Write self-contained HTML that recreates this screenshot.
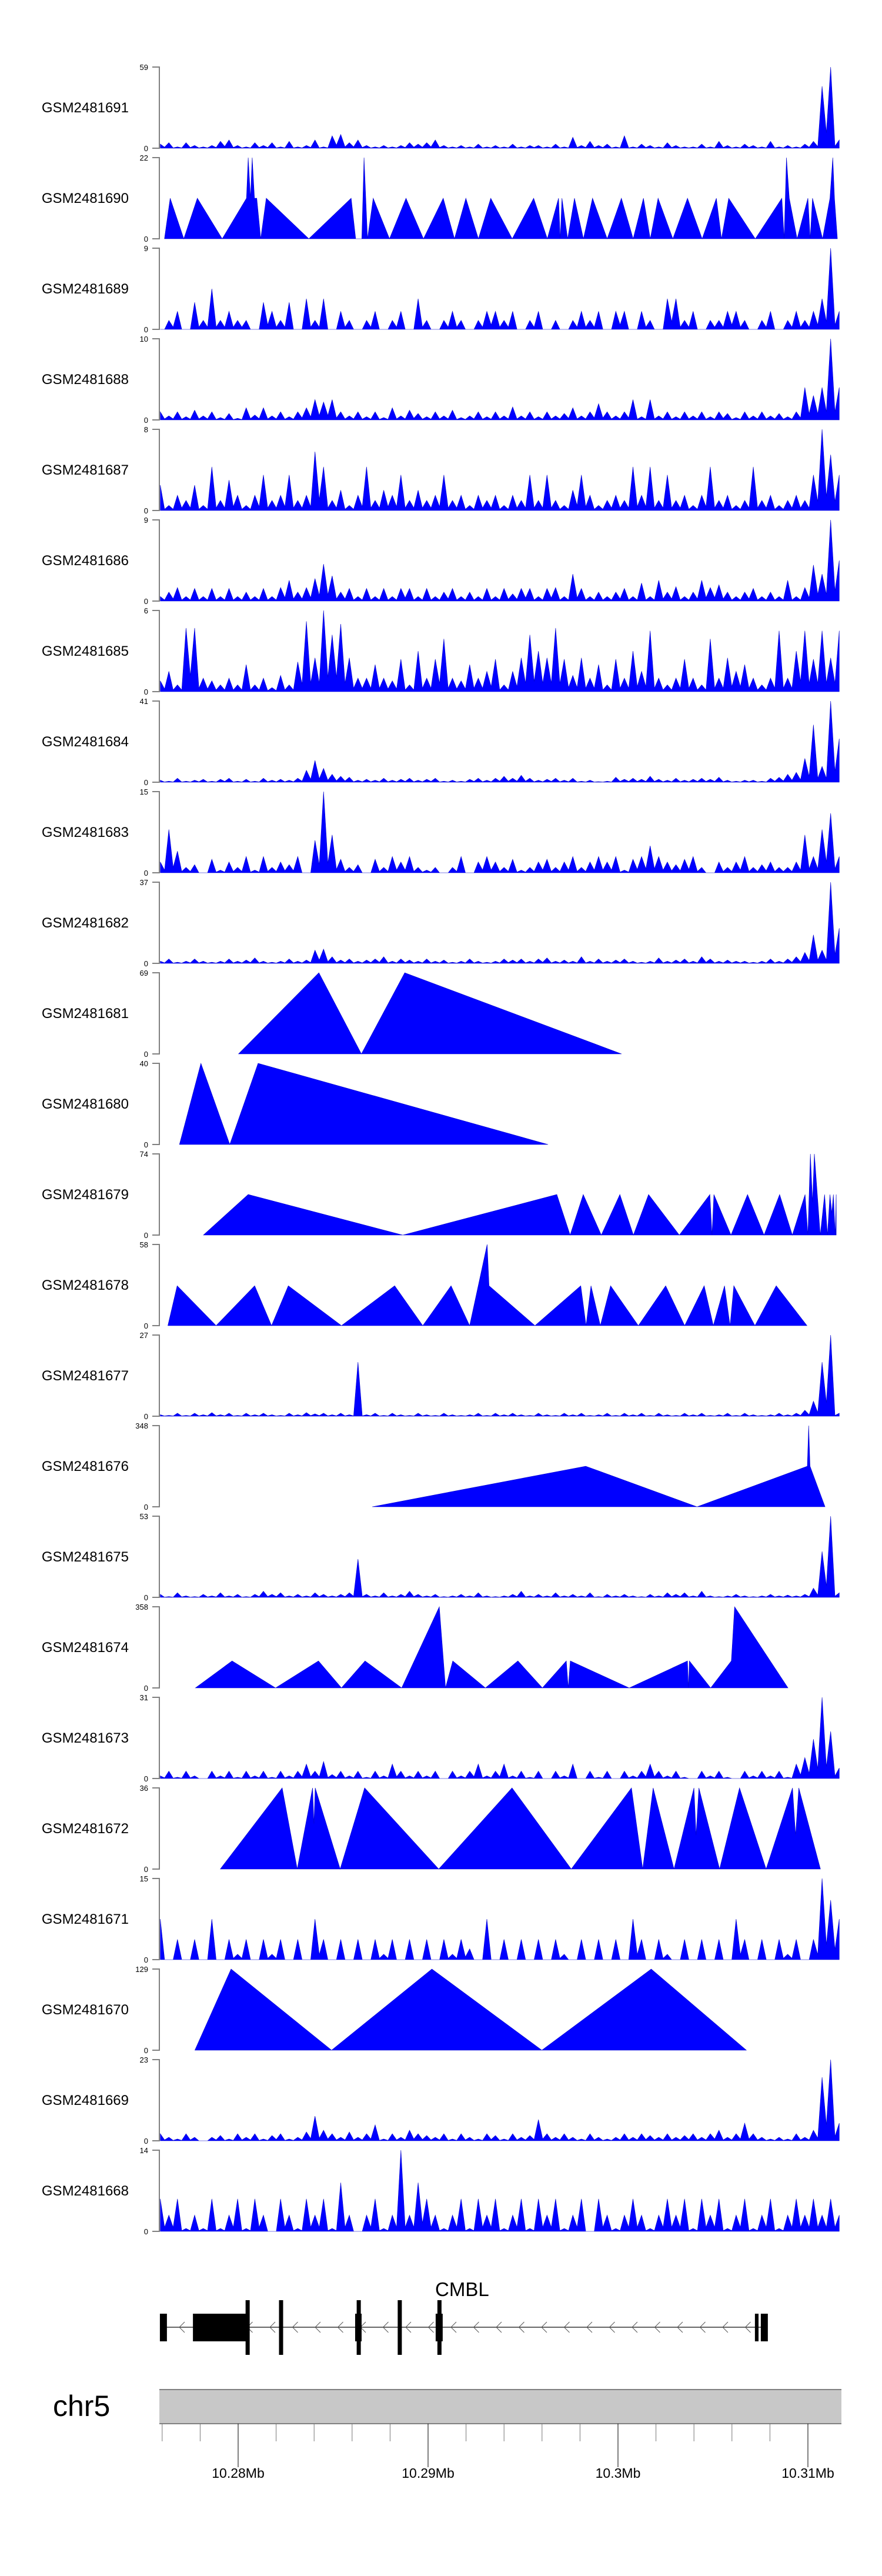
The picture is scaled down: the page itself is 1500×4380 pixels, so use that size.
<!DOCTYPE html>
<html><head><meta charset="utf-8"><title>Coverage tracks CMBL</title>
<style>
html,body{margin:0;padding:0;background:#fff;}
svg{display:block;font-family:"Liberation Sans",Arial,sans-serif;}
</style></head>
<body>
<svg id="chart" width="1500" height="4380" viewBox="0 0 1500 4380" xmlns="http://www.w3.org/2000/svg"></svg>
<script>
// ---- data ----
const sampleNames = ["GSM2481691","GSM2481690","GSM2481689","GSM2481688","GSM2481687","GSM2481686","GSM2481685","GSM2481684","GSM2481683","GSM2481682","GSM2481681","GSM2481680","GSM2481679","GSM2481678","GSM2481677","GSM2481676","GSM2481675","GSM2481674","GSM2481673","GSM2481672","GSM2481671","GSM2481670","GSM2481669","GSM2481668"];
const axisMax = [59,22,9,10,8,9,6,41,15,37,69,40,74,58,27,348,53,358,31,36,15,129,23,14];
// binned coverage (kb positions evenly spaced from binStartKb to binEndKb)
const binStartKb = 5.9;
const binEndKb = 41.65;
const cov1691 = [3,4,1,4,2,1,2,5,6,2,1,4,2,4,1,5,1,2,6,1,9,10,4,6,2,1,2,1,2,4,3,4,6,2,1,2,1,3,1,2,1,3,1,2,2,1,3,1,8,2,5,2,3,1,9,1,3,2,1,4,2,1,1,3,1,5,2,1,3,2,1,5,1,2,1,3,5,45,59,6];
const cov1689 = [0,1,2,0,3,1,4.5,1,2,1,1,0,3,2,1,3,0,3.4,1,3.4,0,2,1,0,1,2,0,1,2,0,3.4,1,0,1,2,1,0,1,2,2,1,2,0,1,2,0,1,0,1,2,1,2,0,2,2,0,2,1,0,3.4,3.4,1,2,0,1,1,2,2,1,0,1,2,0,1,2,1,2,3.4,9,2];
const cov1688 = [1,0.5,1,0.4,1.2,0.5,1,0.3,0.8,0.2,1.5,0.6,1.5,0.5,1,0.4,1,1.5,2.5,2.2,2.5,1,0.5,1,0.4,1,0.3,1.5,0.5,1.2,0.8,0.4,1,0.5,1.2,0.3,0.5,1,0.4,1,0.5,1.6,0.5,1,0.4,1,0.5,0.8,1.5,0.5,1,2,1,0.5,1,2.5,0.4,2.5,0.5,1,0.4,1,0.5,1,0.4,1,0.8,0.3,1,0.5,1,0.5,0.8,0.4,1,4,3,4,10,4];
const cov1687 = [2.5,0.5,1.5,1,2.5,0.5,4.3,1,3,1.5,0.5,1.5,3.5,1,1.5,3.5,1,1.5,5.8,4.3,1,2,0.5,1.5,4.3,1,2,1.5,3.5,1,2,1,1.5,3.5,1,1.5,0.5,1.5,1,1.5,0.5,1.5,1,3.5,1,3.5,1,0.5,2,3.5,1.5,0.5,1,1.5,1,4.3,1.5,4.3,1,3.5,1,1.5,0.5,1.5,4.3,1,1.5,0.5,1,4.3,1,1.5,0.5,1,1.5,1,3.5,8,5.5,3.5];
const cov1686 = [0.5,1,1.5,0.5,1.4,0.5,1.4,0.5,1.4,0.5,1,0.5,1.4,0.5,1.5,2.3,1,1.5,2.5,4.1,2.8,1,1.4,0.5,1.4,0.5,1.4,0.5,1.4,1.4,0.5,1.4,0.5,1,1.4,0.5,1,0.5,1.4,0.5,1.4,0.8,1.4,1.4,0.5,1.4,1.5,0.5,3,1.4,0.5,1,0.5,1,1.4,0.5,2,0.5,2.3,1,1.6,0.5,1,2.3,1.5,1.8,1,0.5,1,1.4,0.5,1,0.5,2.3,0.5,1.5,4,3,9,4.5];
const cov1685 = [0.8,1.5,0.5,4.7,4.7,1,0.8,0.5,1,0.5,2,0.5,1,0.3,1.2,0.5,2.2,5.2,2.5,6,4.2,5,2.5,1,1,2,1,0.8,2.4,0.5,3,1,2.4,3.9,1,0.8,2,1,1.5,2.4,0.5,1.5,2.5,4.2,3,2.5,4.7,2.4,1.2,2.5,1,2,0.5,2.4,1,3,1.5,4.5,1,0.5,1,2.4,1,0.5,3.9,1,2.5,1.5,2,1,0.5,1,4.5,1,3,4.5,2.4,4.5,2.5,4.5];
const cov1684 = [1,0.5,2,0.5,1,1.5,0.5,1.5,2,0.5,1.5,0.5,2,1,1.5,1,2,6,11,7,4,3,2.5,1,1.5,1,2,1,1.5,2,1,1.5,2,0.5,1,0.5,1.5,2,1,2,3,2,3.5,2,1,1.5,2,1,2,0.5,1,0.3,0.5,2.5,1.5,2,1.5,3,1.5,1,2,1,1.5,2,1.5,2.5,1,0.5,1,1,0.5,2,2.5,4,5,12,29,8,41,22];
const cov1683 = [2,8,4,1,1.5,0,2.5,0.5,2,1,3,0.5,3,1,2,1.5,3,0,6,15,7,2.5,1,1.5,0,2.5,1,3,2,3,1,0.5,1,0,1,3,0,2,3,2,1,2.5,0.5,1,2,2.5,1,2,3,1,2,3,2,3,0.5,2.5,3,5,3,2,1.5,2.5,3,1,0,2,1,2,3,1,1.5,2,1,1,2,7,3,8,11,3];
const cov1682 = [1,2,0.5,1,2,1,0.5,1,2,1,1.5,2.5,1,0.5,1,2,1,1.5,6,6.5,3,1.5,2,1,1.5,2,3,1,2,1.5,1,2,1,1.5,0.5,1,2,1,0.5,1,2,1.5,2,1,2,2.5,1,1.5,1,3,1,2,1,1.5,2,1,0.5,1,2.5,1,1.5,2,1,3,2,1,1.5,1,1,0.5,1,2,1,2,3,5,13,6,37,16];
const cov1677 = [0.5,0.3,1,0.3,1,0.5,1.2,0.5,1,0.3,1,0.5,1,0.5,0.3,1,0.5,1.2,0.8,1,0.5,1,0.5,18,0.5,1,0.3,1,0.5,0.3,1,0.5,0.3,1,0.5,0.3,0.5,1,0.3,1,0.5,1,0.5,0.3,1,0.5,0.3,1,0.5,1,0.3,0.5,1,0.3,1,0.5,1,0.3,1,0.5,0.3,1,0.5,1,0.3,0.5,1,0.3,1,0.5,0.3,0.5,1,0.5,1,2,5,18,27,1];
const cov1675 = [2,0.5,3,1,0.5,2,1,3,1,2,0.5,2,4,2,3,1,2,1,3,2,1,2,3,25,2,1,3,1,2,4,2,1,2,0.5,1,2,1,3,1,0.5,1,2,4,1,2,1,3,1,2,1,3,0.5,2,1,2,1,0.5,2,1,3,2,3,1,4,1,0.5,1,2,1,0.5,1,2,1,1.5,1,2,6,30,53,3];
const cov1673 = [1,2.8,0.5,2.8,1,0,2.8,1,2.8,0.5,2.8,1,2.8,0.5,2.8,1,2.8,5.5,2.8,6.5,1.5,2.8,1,2.8,0.5,2.8,1,5.5,2.8,1,2.8,1,2.8,0,2.8,1,2.8,5.5,1,2.8,5.5,1,2.8,0.5,2.8,0,2.8,1,5.5,0,2.8,0.5,2.8,0,2.8,1,2.8,5.5,2.8,1,2.8,0.5,0,2.8,1,2.8,0.5,0,2.8,1,2.8,1,2.8,0.5,5.5,8,15,31,18,4];
const cov1671 = [7.5,0,3.75,0,3.75,0,7.5,0,3.75,1,3.75,0,3.75,1,3.75,0,3.75,0,7.5,3.75,0,3.75,0,3.75,0,3.75,1,3.75,0,3.75,0,3.75,0,3.75,1,3.75,2,0,7.5,0,3.75,0,3.75,0,3.75,0,3.75,1,0,3.75,0,3.75,0,3.75,0,7.5,3.75,0,3.75,1,0,3.75,0,3.75,0,3.75,0,7.5,3.75,0,3.75,0,3.75,1,3.75,0,3.75,15,11,7.5];
const cov1669 = [2,1,0.5,2,1,0,1,1.5,0.5,2,1,2,0.5,1.5,2,0.5,1,2.5,7,3,2,1,2.5,1,2,4.5,0.5,2,1,3,2,1.5,1,2,0.5,2,1,0.5,2,1.5,0.5,2,1,1.5,6,2,1,2,1,0.5,2,1,0.5,1,2,1,2,1.5,1,2,1,1.5,2,1,2,3,1,2,5,2,1,0.5,1,0.5,2,1,3,18,23,5];
const cov1668 = [5.6,2.8,5.6,0.5,2.8,0.5,5.6,0.5,2.8,5.6,0.5,5.6,2.8,0,5.6,2.8,0.5,5.6,2.8,5.6,0.5,8.4,2.8,0,2.8,5.6,0.5,2.8,14,2.8,8.4,5.6,2.8,0.5,2.8,5.6,0.5,5.6,2.8,5.6,0.5,2.8,5.6,0.5,5.6,2.8,5.6,0.5,2.8,5.6,0,5.6,2.8,0.5,2.8,5.6,2.8,0.5,2.8,5.6,2.8,5.6,0.5,5.6,2.8,5.6,0.5,2.8,5.6,0.5,2.8,5.6,0.5,2.8,5.6,2.8,5.6,2.8,5.6,2.8];
// sparse tracks as (kb, value) breakpoints
const pos1690 = [6.12,6.42,7.14,7.85,9.16,10.44,10.53,10.65,10.74,10.86,10.98,11.19,11.48,13.72,15.95,16.19,16.51,16.63,16.81,17.11,17.97,18.84,19.76,20.80,21.39,21.99,22.65,23.30,24.43,25.56,26.28,26.87,26.96,27.05,27.35,27.71,28.18,28.66,29.43,30.18,30.80,31.34,31.70,32.11,32.89,33.66,34.43,35.18,35.45,35.83,37.23,38.63,38.75,38.87,39.02,39.43,40.00,40.12,40.24,40.77,41.16,41.31,41.40,41.55];
const val1690 = [0,11,0,11,0,11,22,11,22,11,11,0,11,0,11,0,0,22,0,11,0,11,0,11,0,11,0,11,0,11,0,11,0,11,0,11,0,11,0,11,0,11,0,11,0,11,0,11,0,11,0,11,0,22,11,0,11,0,11,0,11,22,11,0];
const pos1681 = [10.02,14.25,16.49,18.77,30.19];
const val1681 = [0,69,0,69,0];
const pos1680 = [6.91,8.04,9.56,11.05,26.32];
const val1680 = [0,40,0,40,0];
const pos1679 = [8.17,10.53,18.67,26.78,27.48,28.17,29.12,30.10,30.81,31.61,33.23,34.84,34.95,35.05,35.95,36.82,37.69,38.51,39.18,39.85,40.00,40.13,40.24,40.34,40.65,40.88,41.03,41.16,41.26,41.34,41.44,41.49];
const val1679 = [0,37,0,37,0,37,0,37,0,37,0,37,0,37,0,37,0,37,0,37,0,74,30,74,0,37,0,37,20,37,0,37];
const pos1678 = [6.30,6.79,8.84,10.87,11.76,12.64,15.44,18.24,19.72,21.21,22.19,23.11,23.21,25.63,28.04,28.32,28.58,29.07,29.61,31.07,32.51,33.51,34.54,35.02,35.61,35.90,36.10,37.21,38.33,39.95];
const val1678 = [0,28.5,0,28.5,0,28.5,0,28.5,0,28.5,0,58,28.5,0,28.5,0,28.5,0,28.5,0,28.5,0,28.5,0,28.5,0,28.5,0,28.5,0];
const pos1676 = [17.06,28.30,34.16,39.97,40.04,40.11,40.90];
const val1676 = [0,174,0,174,348,174,0];
const pos1674 = [7.75,9.68,11.97,14.23,15.44,16.68,18.61,20.59,20.92,21.30,23.02,24.73,26.02,27.28,27.38,27.49,30.59,33.66,33.71,33.76,34.88,35.97,36.14,38.95];
const val1674 = [0,119,0,119,0,119,0,358,0,119,0,119,0,119,0,119,0,119,0,119,0,119,358,0];
const pos1672 = [9.06,12.32,13.11,13.92,13.99,14.06,15.37,16.66,20.56,24.42,27.54,30.71,31.30,31.85,32.95,34.00,34.11,34.26,35.35,36.40,37.80,39.19,39.35,39.52,40.66];
const val1672 = [0,36,0,36,20,36,0,36,0,36,0,36,0,36,0,36,15,36,0,36,0,36,15,36,0];
const pos1670 = [7.72,9.63,14.92,20.20,25.99,31.75,36.76];
const val1670 = [0,129,0,129,0,129,0];
// gene model (kb offset from 10.27 Mb)
const geneStartKb = 5.9, geneEndKb = 37.6;
const utrStarts = [5.88,7.62,16.16,20.40,37.21,37.52];
const utrEnds   = [6.25,10.56,16.50,20.77,37.40,37.89];
const cdsKb = [10.50,12.26,16.35,18.51,20.60];
// axis
const tickKb = [6,8,10,12,14,16,18,20,22,24,26,28,30,32,34,36,38,40,42];
const majorKb = [10,20,30,40];
const majorLabels = ["10.28Mb","10.29Mb","10.3Mb","10.31Mb"];

// ---- rendering ----
const NS = "http://www.w3.org/2000/svg";
const svg = document.getElementById('chart');
const X0 = 405, PXKB = 32.3;
function xScale(kb){ return X0 + (kb - 10) * PXKB; }
const TRACK_TOP = 114, PITCH = 154, TRACK_H = 138;
function mk(tag, attrs, parent){
  const e = document.createElementNS(NS, tag);
  for (const k in attrs) e.setAttribute(k, attrs[k]);
  (parent || svg).appendChild(e);
  return e;
}
const binned = {"GSM2481691":cov1691,"GSM2481689":cov1689,"GSM2481688":cov1688,"GSM2481687":cov1687,"GSM2481686":cov1686,"GSM2481685":cov1685,"GSM2481684":cov1684,"GSM2481683":cov1683,"GSM2481682":cov1682,"GSM2481677":cov1677,"GSM2481675":cov1675,"GSM2481673":cov1673,"GSM2481671":cov1671,"GSM2481669":cov1669,"GSM2481668":cov1668};
const sparse = {"GSM2481690":[pos1690,val1690],"GSM2481681":[pos1681,val1681],"GSM2481680":[pos1680,val1680],"GSM2481679":[pos1679,val1679],"GSM2481678":[pos1678,val1678],"GSM2481676":[pos1676,val1676],"GSM2481674":[pos1674,val1674],"GSM2481672":[pos1672,val1672],"GSM2481670":[pos1670,val1670]};

sampleNames.forEach((name, k) => {
  const top = TRACK_TOP + PITCH * k, base = top + TRACK_H, max = axisMax[k];
  const yScale = v => base - (v / max) * TRACK_H;
  const g = mk('g', {});
  
  
  const lab = mk('text', {x: 219, y: top + TRACK_H/2 + 8, 'text-anchor': 'end', 'font-size': 24, fill: '#000'}, g);
  lab.textContent = name;
  
  
  const ax = mk('path', {d: `M259 ${top}H271V${base}H259`, fill: 'none', stroke: '#808080', 'stroke-width': 2}, g);
  
  
  const tTop = mk('text', {x: 252, y: top + 5, 'text-anchor': 'end', 'font-size': 13, fill: '#000'}, g);
  tTop.textContent = String(max);
  
  
  const tBot = mk('text', {x: 252, y: base + 5, 'text-anchor': 'end', 'font-size': 13, fill: '#000'}, g);
  tBot.textContent = '0';
  
  
  let pts = [];
  if (binned[name]) {
    const arr = binned[name], n = arr.length;
    const step = (binEndKb - binStartKb) / (n - 1);
    arr.forEach((v, i) => {
      if (i > 0) {
        const valley = Math.min(v, arr[i-1]) * 0.25;
        pts.push([xScale(binStartKb + step * (i - 0.5)), yScale(valley)]);
      }
      pts.push([xScale(binStartKb + step * i), yScale(v)]);
    });
  } else {
    const [ps, vs] = sparse[name];
    ps.forEach((p, i) => pts.push([xScale(p), yScale(vs[i])]));
  }
  const d = 'M' + pts[0][0].toFixed(1) + ' ' + base + pts.map(p => 'L' + p[0].toFixed(1) + ' ' + p[1].toFixed(1)).join('') + 'L' + pts[pts.length-1][0].toFixed(1) + ' ' + base + 'Z';
  const area = mk('path', {d: d, fill: '#0000ff', stroke: '#0000cc', 'stroke-width': 0.6}, g);
  
  
});

// gene track
const gg = mk('g', {});


const lineY = 3957;
const intron = mk('line', {x1: xScale(geneStartKb), x2: xScale(geneEndKb), y1: lineY, y2: lineY, stroke: '#333', 'stroke-width': 1.5}, gg);


for (let x = 305; x < 1290; x += 38.5) {
  const c = mk('path', {d: `M${x+9} ${lineY-9}L${x} ${lineY}L${x+9} ${lineY+9}`, fill: 'none', stroke: '#555', 'stroke-width': 1}, gg);
  
  
}
utrStarts.forEach((s, i) => {
  const r = mk('rect', {x: xScale(s), y: 3934, width: xScale(utrEnds[i]) - xScale(s), height: 47, fill: '#000'}, gg);
  
  
});
cdsKb.forEach(c => {
  const r = mk('rect', {x: xScale(c) - 3.5, y: 3911, width: 7, height: 93, fill: '#000'}, gg);
  
  
});
const gl = mk('text', {x: 740, y: 3904, 'font-size': 33, fill: '#000'}, gg);
gl.textContent = 'CMBL';



// chromosome axis
const cg = mk('g', {});


const chrLab = mk('text', {x: 90, y: 4108, 'font-size': 50, fill: '#000'}, cg);
chrLab.textContent = 'chr5';


const bar = mk('rect', {x: 271, y: 4063, width: 1160, height: 58, fill: '#c8c8c8'}, cg);


mk('line', {x1: 271, x2: 1431, y1: 4063, y2: 4063, stroke: '#808080', 'stroke-width': 2}, cg);
mk('line', {x1: 271, x2: 1431, y1: 4121, y2: 4121, stroke: '#808080', 'stroke-width': 2}, cg);
tickKb.forEach(t => {
  const x = xScale(t);
  if (x > 1432) return;
  const isMajor = majorKb.includes(t);
  const tk = mk('line', {x1: x, x2: x, y1: 4121, y2: isMajor ? 4195 : 4151, stroke: isMajor ? '#000' : '#777', 'stroke-width': 1}, cg);
  
  
});
majorKb.forEach((t, i) => {
  const tl = mk('text', {x: xScale(t), y: 4213, 'text-anchor': 'middle', 'font-size': 23, fill: '#000'}, cg);
  tl.textContent = majorLabels[i];
  
  
});
</script>
</body></html>
